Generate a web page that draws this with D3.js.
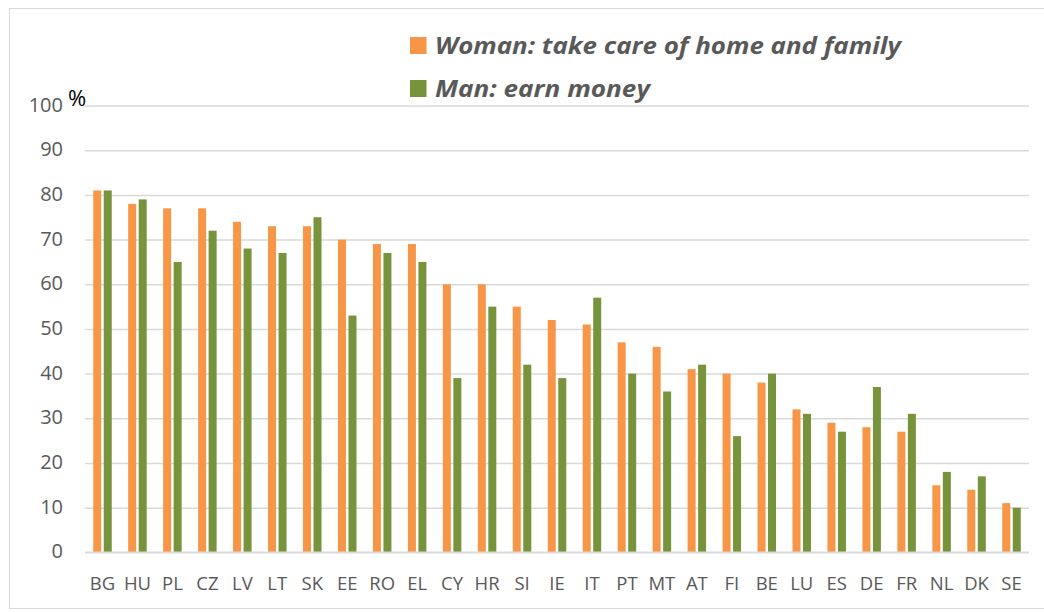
<!DOCTYPE html>
<html><head><meta charset="utf-8">
<script src="https://cdn.jsdelivr.net/npm/d3@7"></script>
<style>body{margin:0;background:#fff;}svg{display:block;}</style>
</head><body>
<svg id="chart" width="1044" height="612"></svg>
<script>
const categories = ["BG","HU","PL","CZ","LV","LT","SK","EE","RO","EL","CY","HR","SI","IE","IT","PT","MT","AT","FI","BE","LU","ES","DE","FR","NL","DK","SE"];
const womanValues = [81,78,77,77,74,73,73,70,69,69,60,60,55,52,51,47,46,41,40,38,32,29,28,27,15,14,11];
const manValues   = [81,79,65,72,68,67,75,53,67,65,39,55,42,39,57,40,36,42,26,40,31,27,37,31,18,17,10];
const yTicks = [0,10,20,30,40,50,60,70,80,90,100];
const seriesNames = ["Woman: take care of home and family","Man: earn money"];
const seriesColors = ["#F79646","#77933C"];

(function(){
const svg = d3.select("#chart");
const mLeft = 85, mRight = 1029, mTop = 105.6, mBottom = 552.3;
const x = d3.scaleBand().domain(categories).range([mLeft, mRight]).paddingInner(0).paddingOuter(0);
const y = d3.scaleLinear().domain([0,100]).range([mBottom, mTop]);
const barW = 8, gap = 2.5;

// outer border
svg.append("rect").attr("x",9.5).attr("y",8.5).attr("width",1040).attr("height",600)
  .attr("fill","none").attr("stroke","#d9d9d9").attr("stroke-width",1);

// gridlines
const yAxis = d3.axisLeft(y).tickValues(yTicks).tickSize(-(mRight-mLeft)).tickPadding(22).tickFormat(d3.format("d"));
const gy = svg.append("g").attr("transform",`translate(${mLeft},0)`).call(yAxis);
gy.select(".domain").remove();
gy.selectAll(".tick line").attr("stroke","#d9d9d9").attr("stroke-width",1.5);
gy.selectAll(".tick text").attr("fill","#595959").attr("font-family","'Open Sans', sans-serif").attr("font-size",20).attr("dy","0.27em");

// bars
const g = svg.append("g");
g.selectAll("rect.w").data(categories).join("rect").attr("class","w")
  .attr("x", d => x(d) + x.bandwidth()/2 - gap/2 - barW)
  .attr("y", (d,i) => y(womanValues[i]))
  .attr("width", barW)
  .attr("height", (d,i) => y(0) - y(womanValues[i]))
  .attr("fill", seriesColors[0]);
g.selectAll("rect.m").data(categories).join("rect").attr("class","m")
  .attr("x", d => x(d) + x.bandwidth()/2 + gap/2)
  .attr("y", (d,i) => y(manValues[i]))
  .attr("width", barW)
  .attr("height", (d,i) => y(0) - y(manValues[i]))
  .attr("fill", seriesColors[1]);

// zero line on top
svg.append("line").attr("x1",mLeft).attr("x2",mRight).attr("y1",y(0)).attr("y2",y(0))
  .attr("stroke","#d9d9d9").attr("stroke-width",1.5);

// x axis labels
const xAxis = d3.axisBottom(x).tickSize(0).tickPadding(24.5);
const gx = svg.append("g").attr("transform",`translate(0,${mBottom})`).call(xAxis);
gx.select(".domain").remove();
gx.selectAll(".tick text").attr("fill","#595959").attr("font-family","'Open Sans', sans-serif").attr("font-size",18.5);

// % label
svg.append("text").attr("x",68).attr("y",106).text("%").attr("font-family","'Open Sans', sans-serif")
  .attr("font-size",22).attr("fill","#000");

// legend
const legendTargets = [466, 215];
const lg = svg.append("g");
seriesNames.forEach((name,i) => {
  const yy = [37, 80][i];
  lg.append("rect").attr("x",410).attr("y",yy).attr("width",16.5).attr("height",17).attr("fill",seriesColors[i]);
  const t = lg.append("text").attr("x",435).attr("y",yy+16.5).text(name)
    .attr("font-family","'Open Sans', sans-serif").attr("font-style","italic").attr("font-weight","bold")
    .attr("font-size",23).attr("fill","#595959");
  t.attr("textLength", legendTargets[i]).attr("lengthAdjust","spacingAndGlyphs");
});
})();
</script>
</body></html>
